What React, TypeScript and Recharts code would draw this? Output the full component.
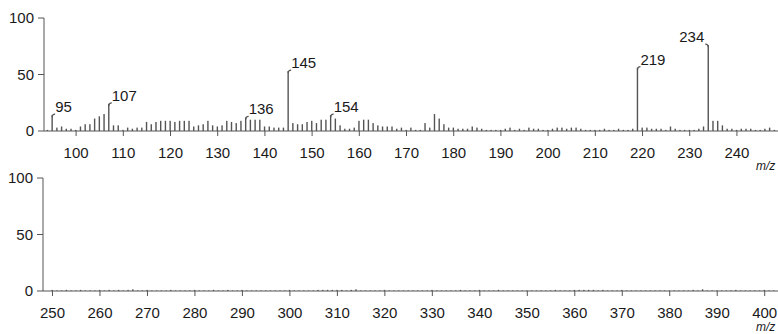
import { BarChart, Bar, XAxis, YAxis, LabelList } from "recharts";

// m/z 93 .. 248, relative intensity (%)
const topStartMz = 93;
const topIntensity = [
  0, 1, 14, 3, 4, 2, 2, // 93-99
  1, 4, 6, 6, 11, 13, 15, 24, 5, 5, // 100-109
  1, 3, 2, 3, 3, 8, 6, 8, 9, 9, // 110-119
  9, 8, 9, 9, 9, 4, 5, 6, 9, 5, // 120-129
  4, 5, 9, 8, 7, 9, 12, 10, 10, 10, // 130-139
  4, 4, 3, 3, 3, 53, 7, 6, 6, 8, // 140-149
  9, 7, 10, 10, 14, 11, 5, 2, 2, 3, // 150-159
  9, 10, 10, 7, 5, 4, 4, 4, 2, 3, // 160-169
  1, 3, 1, 1, 7, 3, 15, 11, 6, 3, // 170-179
  3, 2, 2, 2, 4, 3, 2, 1, 1, 1, // 180-189
  1, 2, 3, 1, 2, 1, 3, 2, 2, 1, // 190-199
  1, 2, 3, 3, 2, 3, 3, 2, 1, 1, // 200-209
  1, 1, 2, 1, 1, 2, 1, 1, 2, 56, // 210-219
  3, 3, 2, 2, 2, 1, 4, 2, 1, 1, // 220-229
  1, 1, 2, 4, 76, 9, 9, 5, 2, 2, // 230-239
  1, 2, 2, 2, 1, 1, 2, 3, 1, // 240-248
];

// m/z 248 .. 402
const bottomStartMz = 248;
const bottomIntensity = [
  0.5, 0, 1, 0.5, 0.5, 1, 0.5, 0.5, 1, 0.5, 0.5, 0.5, // 248-259
  1, 0.5, 1, 0.5, 1, 0.5, 1, 1.5, 0.5, 0.5, // 260-269
  1, 0.5, 0.5, 0.5, 0.5, 1, 0.5, 0.5, 0.5, 0.5, // 270-279
  1, 0.5, 0.5, 0.5, 1, 0.5, 0.5, 1, 0.5, 0.5, // 280-289
  1, 0.5, 0.5, 0.5, 0.5, 0.5, 0.5, 0.5, 0.5, 0.5, // 290-299
  1, 0.5, 0.5, 0.5, 0.5, 0.5, 1, 1, 1, 1, // 300-309
  1, 1, 0.5, 1, 1.5, 0.5, 0.5, 0.5, 0.5, 0.5, // 310-319
  1, 0.5, 0.5, 0.5, 0.5, 0.5, 0.5, 0.5, 0.5, 0.5, // 320-329
  1, 0.5, 0.5, 0.5, 0.5, 0.5, 1, 0.5, 0.5, 0.5, // 330-339
  1, 0.5, 0.5, 0.5, 1, 0.5, 0.5, 0.5, 0.5, 0.5, // 340-349
  0.5, 0.5, 0.5, 0.5, 0.5, 0.5, 1, 0.5, 0.5, 0.5, // 350-359
  1, 1, 1, 1, 1, 0.5, 1, 0.5, 0.5, 0.5, // 360-369
  1, 0.5, 0.5, 0.5, 0.5, 0.5, 0.5, 0.5, 0.5, 0.5, // 370-379
  0.5, 0.5, 0.5, 0.5, 0.5, 1, 0.5, 1.5, 0.5, 0.5, // 380-389
  0.5, 0.5, 0.5, 0.5, 1, 0.5, 0.5, 0.5, 0.5, 0.5, // 390-399
  1, 0.5, 0.5, // 400-402
];

const topTicks = [100, 110, 120, 130, 140, 150, 160, 170, 180, 190, 200, 210, 220, 230, 240];
const bottomTicks = [250, 260, 270, 280, 290, 300, 310, 320, 330, 340, 350, 360, 370, 380, 390, 400];
const yTicks = [0, 50, 100];

// labelled peaks; 234 has its label on the left of the stem
const labelledPeaks = [95, 107, 136, 145, 154, 219, 234];
const leftLabelled = [234];

const topData = topIntensity.map((value, i) => ({ mz: topStartMz + i, value }));
const bottomData = bottomIntensity.map((value, i) => ({ mz: bottomStartMz + i, value }));

const INK = "#555";
const TEXT = "#1a1a1a";
const FONT = '"Liberation Sans", Arial, sans-serif';

const Stem = (props: any) => {
  const { x, y, width, height } = props;
  if (height == null || height <= 0) return null;
  const cx = x + width / 2;
  return <rect x={cx - 0.7} y={y} width={1.4} height={height} fill={INK} />;
};

const PeakLabel = (props: any) => {
  const { x, y, width, value } = props;
  if (!labelledPeaks.includes(value)) return null;
  const cx = x + width / 2;
  const left = leftLabelled.includes(value);
  const hook = left
    ? `M${cx},${y + 2} q0,-3 -3,-3`
    : `M${cx},${y + 2} q0,-3 3,-3`;
  return (
    <g>
      <path d={hook} fill="none" stroke={INK} strokeWidth={1.2} />
      <text
        x={left ? cx - 4 : cx + 3}
        y={y - 3}
        textAnchor={left ? "end" : "start"}
        fontSize={15}
        fill={TEXT}
        fontFamily={FONT}
      >
        {value}
      </text>
    </g>
  );
};

const Spectrum = ({
  data,
  domain,
  ticks,
  left,
  labels,
}: {
  data: { mz: number; value: number }[];
  domain: [number, number];
  ticks: number[];
  left: number;
  labels: boolean;
}) => (
  <BarChart
    width={778}
    height={166}
    data={data}
    margin={{ top: 18, right: 0, left: left, bottom: 0 }}
    barCategoryGap={0}
  >
    <XAxis
      dataKey="mz"
      type="number"
      domain={domain}
      ticks={ticks}
      allowDataOverflow
      height={35}
      tickSize={5}
      tickMargin={11}
      stroke={INK}
      tick={{ fill: TEXT, fontSize: 15, fontFamily: FONT }}
    />
    <YAxis
      domain={[0, 100]}
      ticks={yTicks}
      width={36}
      tickSize={6}
      tickMargin={4}
      stroke={INK}
      tick={{ fill: TEXT, fontSize: 15, fontFamily: FONT }}
    />
    <Bar dataKey="value" barSize={2} shape={<Stem />} isAnimationActive={false}>
      {labels && <LabelList dataKey="mz" content={<PeakLabel />} />}
    </Bar>
  </BarChart>
);

const MZ = ({ top }: { top: number }) => (
  <div
    style={{
      position: "absolute",
      left: 756,
      top,
      fontSize: 12,
      lineHeight: "12px",
      fontStyle: "italic",
      fontFamily: FONT,
      color: TEXT,
    }}
  >
    m/z
  </div>
);

export default function App() {
  return (
    <div
      style={{
        position: "absolute",
        left: 0,
        top: 0,
        width: 778,
        height: 334,
        background: "#fff",
        overflow: "hidden",
      }}
    >
      <div style={{ position: "absolute", left: 0, top: 0 }}>
        <Spectrum data={topData} domain={[93.2, 248.7]} ticks={topTicks} left={8} labels />
      </div>
      <div style={{ position: "absolute", left: 0, top: 160 }}>
        <Spectrum data={bottomData} domain={[248, 402.8]} ticks={bottomTicks} left={7} labels={false} />
      </div>
      <MZ top={160} />
      <MZ top={321} />
    </div>
  );
}
